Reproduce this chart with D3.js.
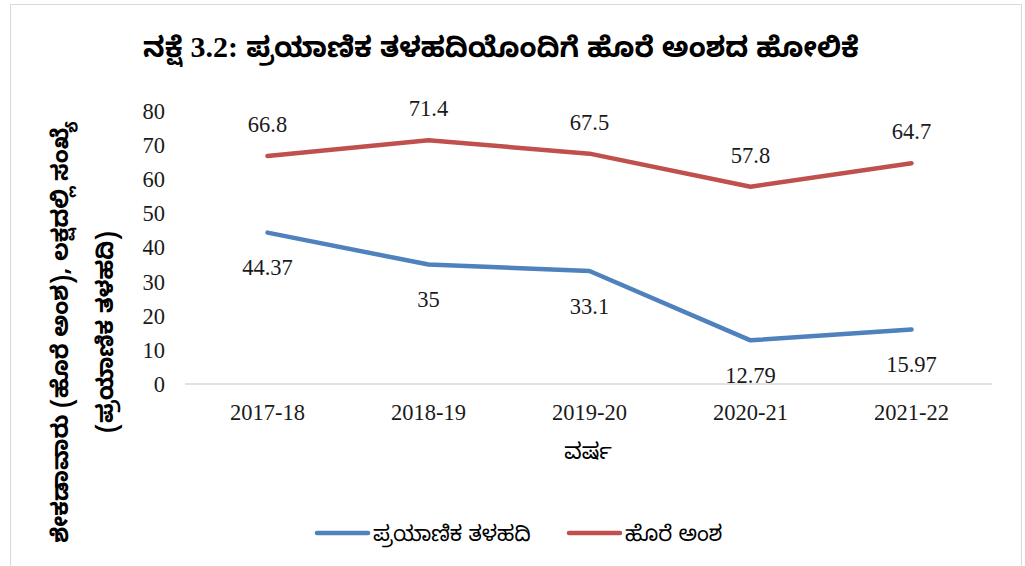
<!DOCTYPE html>
<html>
<head>
<meta charset="utf-8">
<script src="https://cdn.jsdelivr.net/npm/d3@7"></script>
<style>
  body { margin: 0; background: #fff; }
  svg { display: block; }
  .num { font-family: "Liberation Serif", "Times New Roman", serif; font-size: 22.5px; fill: #1a1a1a; }
  .kn { font-family: "Noto Sans Kannada", "Noto Sans", sans-serif; fill: #000; }
</style>
</head>
<body>
<div id="chart"></div>
<script>
// data
var years = ["2017-18", "2018-19", "2019-20", "2020-21", "2021-22"];
var passengerBase = [44.37, 35, 33.1, 12.79, 15.97];
var loadFactor = [66.8, 71.4, 67.5, 57.8, 64.7];
var yTicks = [0, 10, 20, 30, 40, 50, 60, 70, 80];

var seriesNames = ["ಪ್ರಯಾಣಿಕ ತಳಹದಿ", "ಹೊರೆ ಅಂಶ"];
var colors = ["#4f81bd", "#c0504d"];

var width = 1025, height = 566;
var margin = {top: 111, right: 33, bottom: 182, left: 187};

var svg = d3.select("#chart")
  .append("svg")
  .attr("width", width)
  .attr("height", height);

// outer frame (no bottom edge visible)
svg.append("path")
  .attr("d", "M10.5," + height + "V4.5H1021.5V" + height)
  .attr("fill", "none")
  .attr("stroke", "#d9d9d9")
  .attr("stroke-width", 1);

var x = d3.scaleBand()
  .domain(years)
  .range([margin.left, width - margin.right]);

var y = d3.scaleLinear()
  .domain([0, 80])
  .range([height - margin.bottom, margin.top]);

// baseline
svg.append("line")
  .attr("x1", margin.left - 2)
  .attr("x2", width - margin.right)
  .attr("y1", y(0))
  .attr("y2", y(0))
  .attr("stroke", "#d9d9d9")
  .attr("stroke-width", 1.5);

// y axis labels
svg.append("g")
  .selectAll("text")
  .data(yTicks)
  .join("text")
  .attr("class", "num")
  .attr("x", 165)
  .attr("y", d => y(d))
  .attr("dy", "0.35em")
  .attr("text-anchor", "end")
  .text(d => d);

// x axis labels
svg.append("g")
  .selectAll("text")
  .data(years)
  .join("text")
  .attr("class", "num")
  .attr("x", d => x(d) + x.bandwidth() / 2)
  .attr("y", 412)
  .attr("dy", "0.35em")
  .attr("text-anchor", "middle")
  .text(d => d);

var line = d3.line()
  .x((d, i) => x(years[i]) + x.bandwidth() / 2)
  .y(d => y(d));

[passengerBase, loadFactor].forEach(function(values, k) {
  svg.append("path")
    .datum(values)
    .attr("d", line)
    .attr("fill", "none")
    .attr("stroke", colors[k])
    .attr("stroke-width", 4.5)
    .attr("stroke-linecap", "round")
    .attr("stroke-linejoin", "round");

  svg.append("g")
    .selectAll("text")
    .data(values)
    .join("text")
    .attr("class", "num")
    .attr("x", (d, i) => x(years[i]) + x.bandwidth() / 2)
    .attr("y", d => k === 0 ? y(d) + 35 : y(d) - 32)
    .attr("dy", "0.35em")
    .attr("text-anchor", "middle")
    .text(d => d);
});

// title (numbers in serif like the original)
var title = svg.append("text")
  .attr("class", "kn")
  .attr("x", 501)
  .attr("y", 47)
  .attr("dy", "0.35em")
  .attr("text-anchor", "middle")
  .style("font-size", "28px")
  .style("font-weight", "bold");
title.append("tspan").text("ನಕ್ಷೆ ");
title.append("tspan")
  .style("font-family", "'Liberation Serif', serif")
  .style("font-size", "30px")
  .text("3.2:");
title.append("tspan").text(" ಪ್ರಯಾಣಿಕ ತಳಹದಿಯೊಂದಿಗೆ ಹೊರೆ ಅಂಶದ ಹೋಲಿಕೆ");

// y axis title, two lines
var yTitle = svg.append("text")
  .attr("class", "kn")
  .attr("transform", "translate(60,332) rotate(-90)")
  .attr("text-anchor", "middle")
  .style("font-size", "23px")
  .style("font-weight", "bold");
yTitle.append("tspan")
  .attr("x", 0).attr("y", 0).attr("dy", "0.35em")
  .text("ಶೇಕಡಾವಾರು (ಹೊರೆ ಅಂಶ), ಲಕ್ಷದಲ್ಲಿ ಸಂಖ್ಯೆ");
yTitle.append("tspan")
  .attr("x", 0).attr("y", 45).attr("dy", "0.35em")
  .text("(ಪ್ರಯಾಣಿಕ ತಳಹದಿ)");

// x axis title
svg.append("text")
  .attr("class", "kn")
  .attr("x", 588)
  .attr("y", 451)
  .attr("dy", "0.35em")
  .attr("text-anchor", "middle")
  .style("font-size", "22px")
  .text("ವರ್ಷ");

// legend
var legend = svg.append("g")
  .selectAll("g")
  .data(seriesNames)
  .join("g")
  .attr("transform", (d, i) => "translate(" + (317 + i * 252) + ",533)");

legend.append("line")
  .attr("x1", 0).attr("x2", 51)
  .attr("stroke", (d, i) => colors[i])
  .attr("stroke-width", 4.5)
  .attr("stroke-linecap", "round");

legend.append("text")
  .attr("class", "kn")
  .attr("x", 56)
  .attr("dy", "0.35em")
  .style("font-size", "21.5px")
  .text(d => d);
</script>
</body>
</html>
